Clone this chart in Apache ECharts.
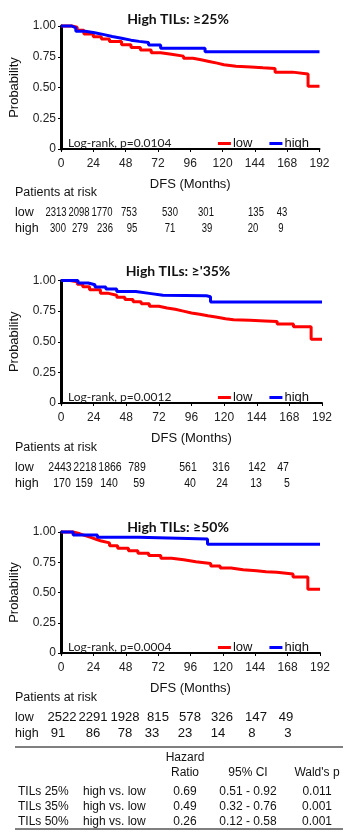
<!DOCTYPE html>
<html>
<head>
<meta charset="utf-8">
<script src="https://cdn.jsdelivr.net/npm/echarts@6/dist/echarts.min.js"></script>
<style>
  html, body { margin: 0; padding: 0; background: #fff; }
  #chart { width: 347px; height: 836px; }
</style>
</head>
<body>
<div id="chart"></div>
<script>
// Kaplan-Meier curves: [month, survival]
const km25Low = [[0,1],[8,0.99],[12,0.965],[17,0.935],[24,0.912],[30,0.895],[36,0.875],[45,0.847],[52,0.825],[59,0.805],[67,0.783],[74,0.77],[82,0.755],[91,0.738],[98,0.725],[104,0.712],[110,0.698],[116,0.685],[121,0.672],[130,0.666],[141,0.66],[150,0.655],[159,0.625],[172,0.61],[183.5,0.51],[192,0.51]];
const km25High = [[0,1],[8,0.985],[11,0.958],[18,0.945],[25,0.93],[32,0.915],[38,0.9],[45,0.885],[52,0.875],[58,0.865],[65,0.845],[74,0.82],[107,0.79],[192,0.79]];
const km35Low = [[0,1],[6.6,0.99],[12,0.97],[16,0.95],[21,0.925],[29,0.895],[35,0.88],[41,0.863],[47,0.845],[53,0.827],[59,0.81],[65,0.79],[72,0.775],[78,0.765],[84,0.75],[90,0.735],[96,0.725],[102,0.712],[108,0.7],[115,0.688],[121,0.68],[127,0.675],[139,0.67],[150,0.665],[159,0.645],[171,0.623],[184,0.52],[192,0.52]];
const km35High = [[0,1],[12.5,0.98],[20,0.965],[25,0.947],[33,0.93],[41,0.91],[55,0.895],[65,0.88],[75,0.875],[107,0.868],[110,0.825],[192,0.825]];
const km50Low = [[0,1],[9,0.985],[14,0.97],[18,0.955],[22,0.94],[26,0.925],[30,0.91],[36,0.887],[42,0.865],[50,0.845],[57,0.824],[65,0.805],[74,0.783],[82,0.77],[91,0.755],[100,0.74],[111,0.72],[118,0.703],[126,0.688],[135,0.68],[145,0.672],[152,0.668],[160,0.653],[172,0.628],[183,0.527],[192,0.527]];
const km50High = [[0,1],[9,0.975],[27,0.956],[57.6,0.942],[108.6,0.898],[192,0.898]];

// patients at risk
const risk25Low = [2313, 2098, 1770, 753, 530, 301, 135, 43];
const risk25High = [300, 279, 236, 95, 71, 39, 20, 9];
const risk35Low = [2443, 2218, 1866, 789, 561, 316, 142, 47];
const risk35High = [170, 159, 140, 59, 40, 24, 13, 5];
const risk50Low = [2522, 2291, 1928, 815, 578, 326, 147, 49];
const risk50High = [91, 86, 78, 33, 23, 14, 8, 3];

const titles = ['High TILs: \u226525%', "High TILs: \u2265'35%", 'High TILs: \u226550%'];
const logRank = ['Log-rank, p=0.0104', 'Log-rank, p=0.0012', 'Log-rank, p=0.0004'];

// hazard ratio table
const hrLabels = ['TILs 25%', 'TILs 35%', 'TILs 50%'];
const hrCompare = ['high vs. low', 'high vs. low', 'high vs. low'];
const hrRatio = ['0.69', '0.49', '0.26'];
const hrCI = ['0.51 - 0.92', '0.32 - 0.76', '0.12 - 0.58'];
const hrP = ['0.011', '0.001', '0.001'];

const RED = '#ff0000', BLUE = '#0000ff';
const SANS = '"Liberation Sans", Arial, sans-serif';
const CAL = 'Lato, "Open Sans", sans-serif';

// layout of each panel
const panels = [
  { top: 26, h: 123, left: 59.5, w: 260, titleY: 16, legendY: 143, riskY: [193, 213, 229],
    cols: [56, 79, 102, 129, 170, 206, 256, 282], colsH: [58, 80, 105, 132, 170, 207, 253, 281], dScale: 0.76,
    low: km25Low, high: km25High, rLow: risk25Low, rHigh: risk25High },
  { top: 280.5, h: 122.5, left: 61, w: 261, titleY: 268, legendY: 397, riskY: [448, 468, 484],
    cols: [60, 85, 110, 137, 188, 221, 257, 283], colsH: [62, 84, 109, 139, 190, 222, 256, 287], dScale: 0.84,
    low: km35Low, high: km35High, rLow: risk35Low, rHigh: risk35High },
  { top: 532, h: 121, left: 60, w: 260, titleY: 524, legendY: 647, riskY: [698, 718, 734],
    cols: [62, 93, 125, 158, 190, 222, 256, 286], colsH: [58, 93, 125, 152, 185, 218, 252, 288], dScale: 1.05,
    low: km50Low, high: km50High, rLow: risk50Low, rHigh: risk50High }
];

const grid = [], xAxis = [], yAxis = [], series = [], legend = [], title = [], graphic = [];

function txt(x, y, text, opt) {
  opt = opt || {};
  return {
    type: 'text', x: x, y: y, scaleX: opt.scaleX || 1, silent: true,
    style: {
      x: 0, y: 0, text: text,
      fill: opt.color || '#111',
      font: (opt.weight || 'normal') + ' ' + (opt.size || 12) + 'px ' + (opt.family || SANS),
      textAlign: opt.align || 'left', textVerticalAlign: 'middle'
    }
  };
}

panels.forEach(function (p, i) {
  grid.push({ left: p.left, top: p.top, width: p.w, height: p.h, containLabel: false });
  xAxis.push({
    gridIndex: i, type: 'value', min: 0, max: 192, interval: 24,
    name: 'DFS (Months)', nameLocation: 'middle', nameGap: 29,
    nameTextStyle: { fontFamily: SANS, fontSize: 13, color: '#111' },
    axisLine: { lineStyle: { color: '#000', width: 2 } },
    axisTick: { show: true, length: 3, lineStyle: { color: '#000', width: 1 } },
    axisLabel: { fontFamily: SANS, fontSize: 12, color: '#222', margin: 9 },
    splitLine: { show: false }
  });
  yAxis.push({
    gridIndex: i, type: 'value', min: 0, max: 1, interval: 0.25,
    name: 'Probability', nameLocation: 'middle', nameGap: 40,
    nameTextStyle: { fontFamily: SANS, fontSize: 13, color: '#111' },
    axisLine: { show: true, lineStyle: { color: '#000', width: 3 } },
    axisTick: { show: true, length: 3, lineStyle: { color: '#000', width: 1 } },
    axisLabel: { fontFamily: SANS, fontSize: 12, color: '#222', margin: 5,
      formatter: function (v) { return v === 0 ? '0' : v.toFixed(2); } },
    splitLine: { show: false }
  });
  series.push({
    name: 'low', type: 'line', xAxisIndex: i, yAxisIndex: i, step: 'end',
    showSymbol: false, clip: false, data: p.low, z: 2,
    lineStyle: { color: RED, width: 3 }, itemStyle: { color: RED }
  });
  series.push({
    name: 'high', type: 'line', xAxisIndex: i, yAxisIndex: i, step: 'end',
    showSymbol: false, clip: false, data: p.high, z: 3,
    lineStyle: { color: BLUE, width: 3 }, itemStyle: { color: BLUE }
  });
  legend.push({
    data: ['low', 'high'], right: 33, top: p.legendY - 11, selectedMode: false,
    icon: 'rect', itemWidth: 13, itemHeight: 3, itemGap: 17,
    textStyle: { fontFamily: SANS, fontSize: 13, color: '#111', padding: [0, 0, 0, -3] }
  });
  title.push({
    text: titles[i], left: 173, top: p.titleY - 9, textAlign: 'center',
    textStyle: { fontFamily: CAL, fontWeight: 'bold', fontSize: 14, color: '#111' }
  });
  graphic.push(txt(68, p.legendY, logRank[i], { family: CAL, size: 12, color: '#222' }));
  graphic.push(txt(15, p.riskY[0], 'Patients at risk', { size: 12.5 }));
  graphic.push(txt(15, p.riskY[1], 'low', { size: 12.5 }));
  graphic.push(txt(15, p.riskY[2], 'high', { size: 12.5 }));
  p.rLow.forEach(function (v, k) {
    graphic.push(txt(p.cols[k], p.riskY[1], String(v), { size: 12.5, align: 'center', scaleX: p.dScale }));
  });
  p.rHigh.forEach(function (v, k) {
    graphic.push(txt(p.colsH[k], p.riskY[2], String(v), { size: 12.5, align: 'center', scaleX: p.dScale }));
  });
});

// hazard ratio table
graphic.push({ type: 'line', silent: true, shape: { x1: 15, y1: 747, x2: 343, y2: 747 }, style: { stroke: '#000', lineWidth: 1 } });
graphic.push({ type: 'line', silent: true, shape: { x1: 15, y1: 829, x2: 343, y2: 829 }, style: { stroke: '#000', lineWidth: 1 } });
graphic.push(txt(185, 758, 'Hazard', { align: 'center' }));
graphic.push(txt(185, 773, 'Ratio', { align: 'center' }));
graphic.push(txt(248, 773, '95% CI', { align: 'center' }));
graphic.push(txt(317, 773, "Wald's p", { align: 'center' }));
hrLabels.forEach(function (lab, r) {
  const y = 792 + r * 15;
  graphic.push(txt(18, y, lab));
  graphic.push(txt(83, y, hrCompare[r]));
  graphic.push(txt(185, y, hrRatio[r], { align: 'center' }));
  graphic.push(txt(248, y, hrCI[r], { align: 'center' }));
  graphic.push(txt(317, y, hrP[r], { align: 'center' }));
});

const chart = echarts.init(document.getElementById('chart'));
chart.setOption({
  animation: false,
  backgroundColor: '#fff',
  title: title,
  legend: legend,
  grid: grid,
  xAxis: xAxis,
  yAxis: yAxis,
  series: series,
  graphic: graphic
});
</script>
</body>
</html>
